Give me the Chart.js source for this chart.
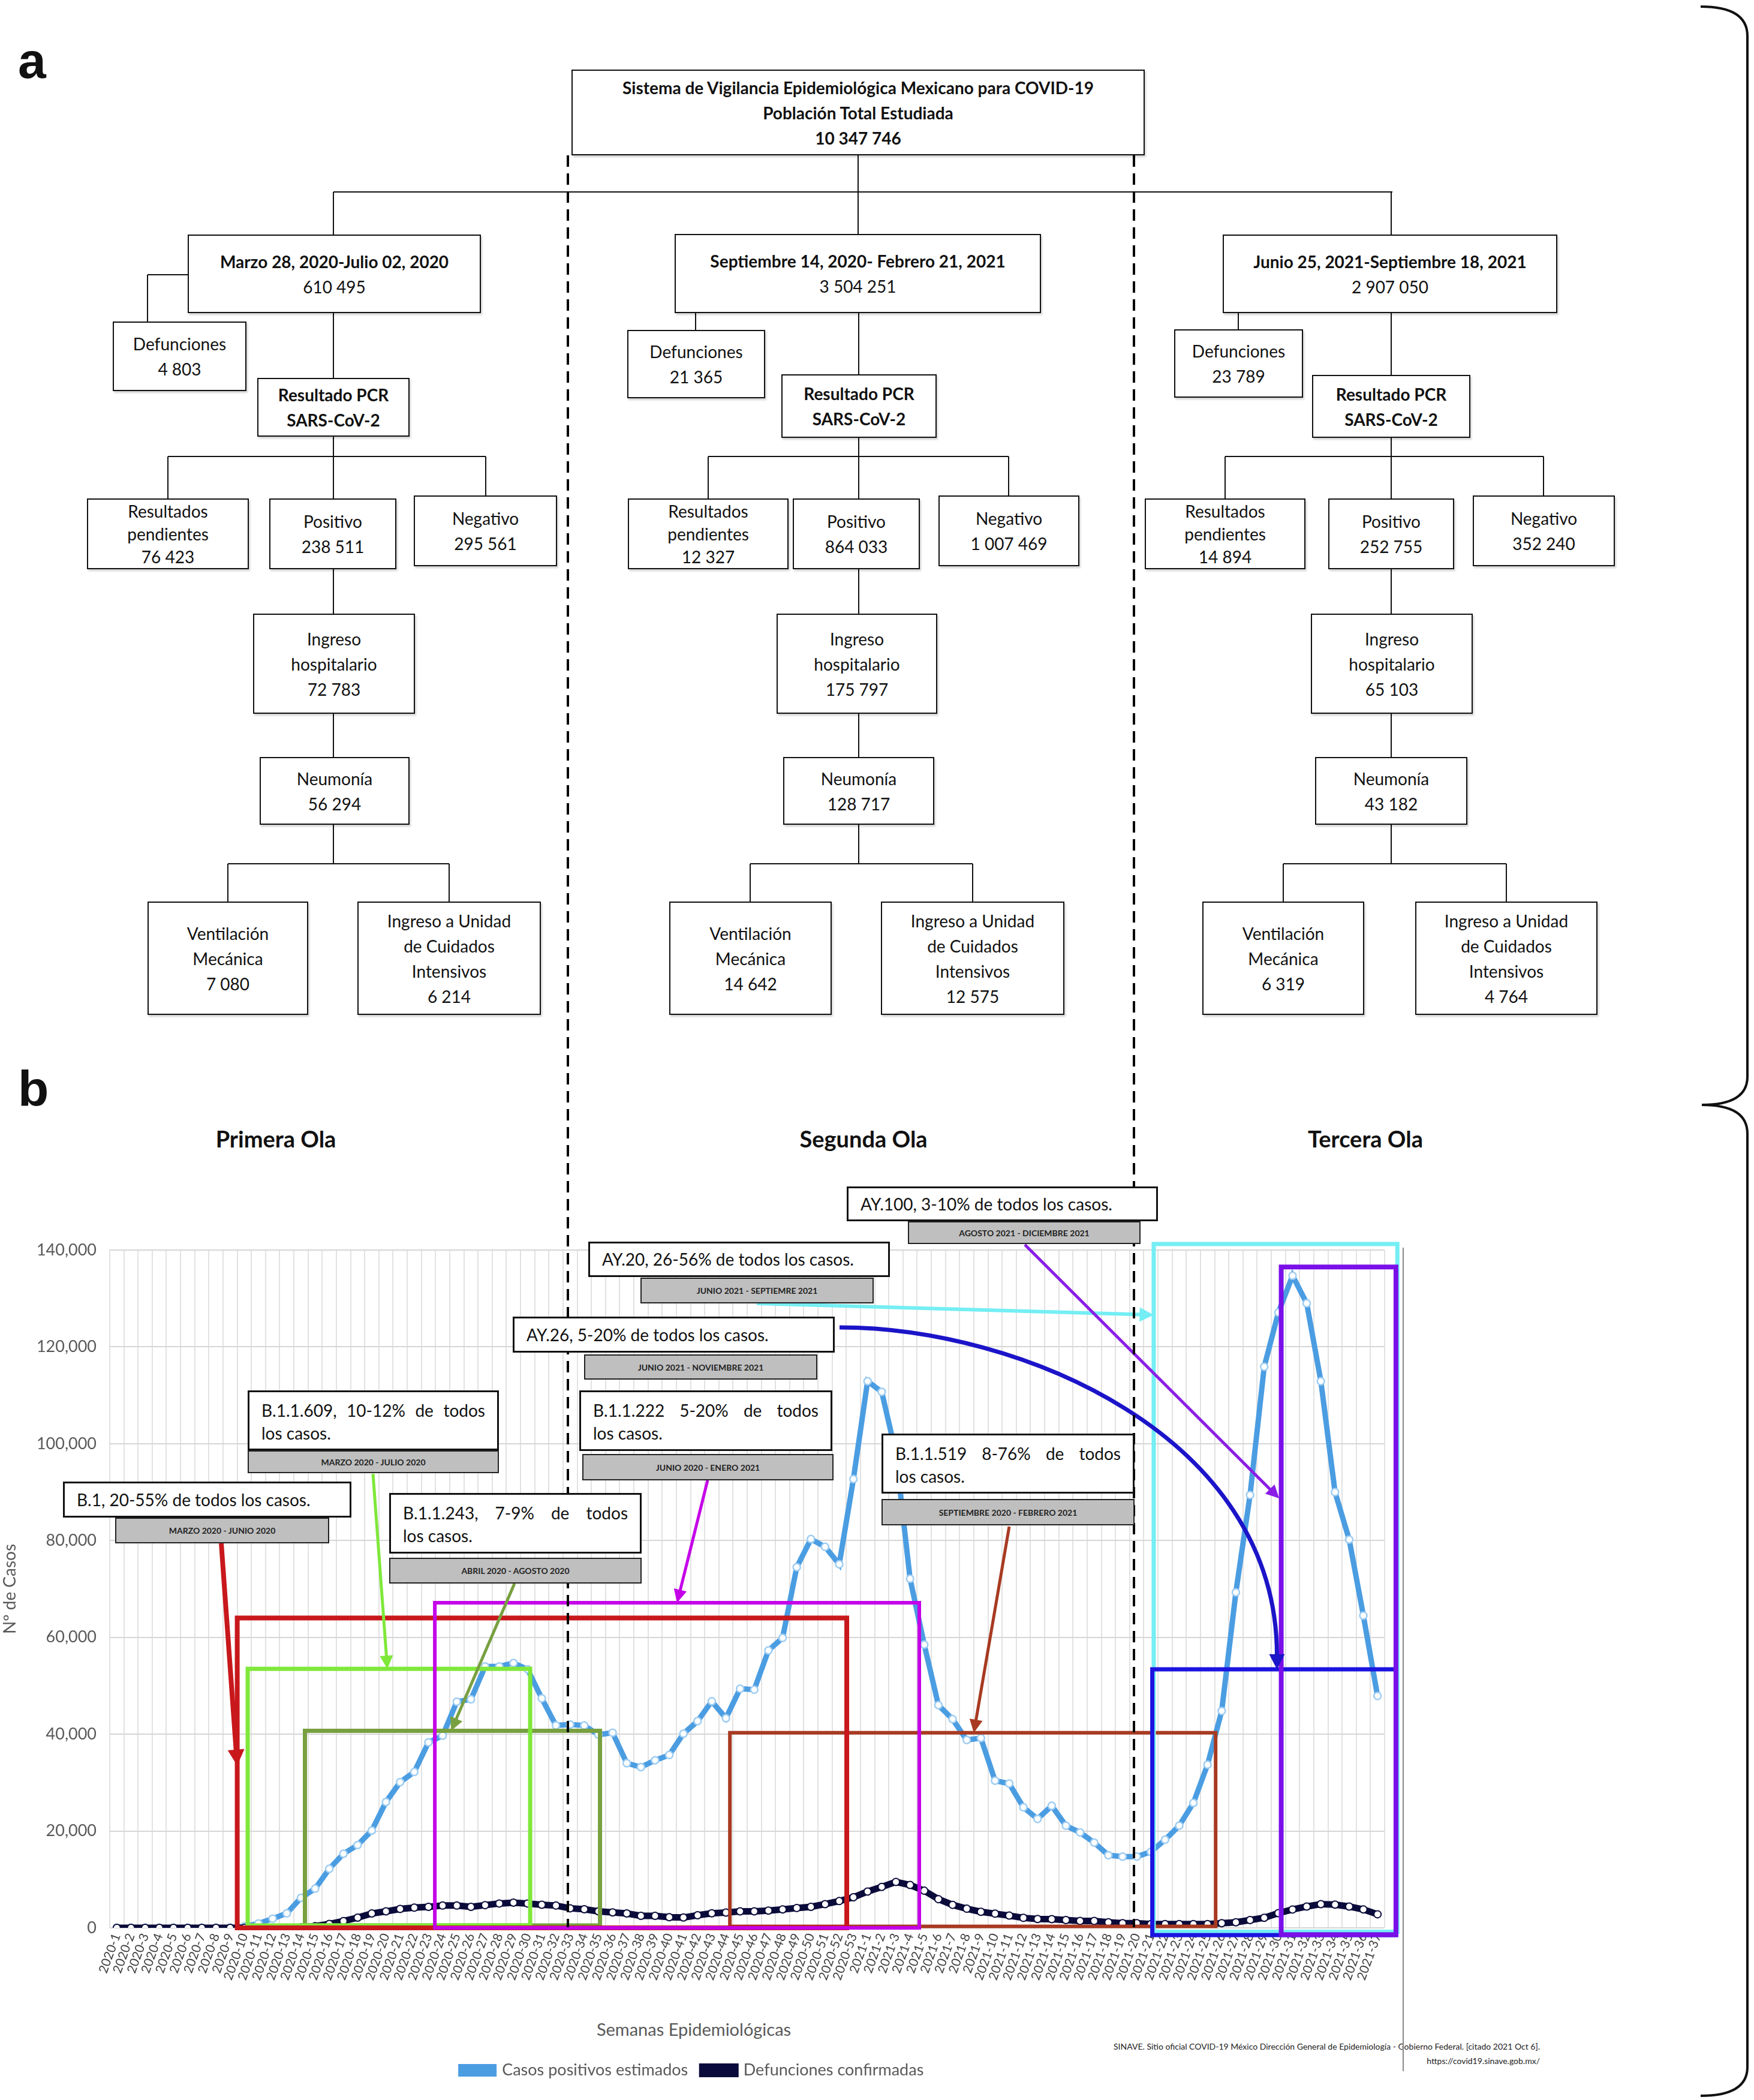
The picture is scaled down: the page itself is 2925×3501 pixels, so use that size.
<!DOCTYPE html>
<html lang="es">
<head>
<meta charset="utf-8">
<title>Olas COVID-19 México</title>
<script src="https://cdn.jsdelivr.net/npm/chart.js@4.4.1/dist/chart.umd.min.js"></script>
<style>
  html, body { margin: 0; padding: 0; background: #fff; }
  body { position: relative; width: 2925px; height: 3501px; overflow: hidden; font-family: Lato, "Open Sans", sans-serif; color: #111; }
  .caja { position: absolute; box-sizing: border-box; border: 2.5px solid #111; background: #fff; display: flex; flex-direction: column; justify-content: center; align-items: center; text-align: center; font-size: 28px; line-height: 42px; box-shadow: 2px 3px 3px rgba(0,0,0,.18); z-index: 2; white-space: nowrap; }
  .linea { position: absolute; background: #111; z-index: 1; }
  .letra { position: absolute; font: bold 84px "Liberation Sans", Arial, sans-serif; line-height: 1; }
  .ola { position: absolute; width: 600px; text-align: center; font-weight: 700; font-size: 38px; line-height: 50px; }
  .corte { position: absolute; width: 4px; background: repeating-linear-gradient(to bottom, #000 0 19px, transparent 19px 30px); z-index: 4; }
  .nota { position: absolute; box-sizing: border-box; background: #fff; border: 3px solid #111; font-size: 28px; line-height: 38px; padding: 11px 20px 0; z-index: 6; white-space: nowrap; }
  .nota span { display: block; }
  .nota span.just { text-align: justify; text-align-last: justify; white-space: normal; }
  .nota.una { padding: 0 20px; }
  .fecha { position: absolute; box-sizing: border-box; background: #bfbfbf; border: 2.5px solid #222; font-weight: 700; font-size: 14px; color: #222; display: flex; align-items: center; justify-content: center; z-index: 6; white-space: nowrap; }
  #grafica { position: absolute; left: 0; top: 1960px; z-index: 3; }
  .texto { position: absolute; color: #595959; }
</style>
</head>
<body>

<canvas id="grafica" width="2345" height="1541"></canvas>

<div class="letra" style="left:30px;top:59px">a</div>
<div class="letra" style="left:30px;top:1773px">b</div>

<div class="ola" style="left:160px;top:1873px">Primera Ola</div>
<div class="ola" style="left:1140px;top:1873px">Segunda Ola</div>
<div class="ola" style="left:1977px;top:1873px">Tercera Ola</div>

<div class="corte" style="left:945px;top:259px;height:2954px"></div>
<div class="corte" style="left:1889px;top:259px;height:2954px"></div>

<div style="position:absolute;left:2339px;top:2080px;width:2px;height:1373px;background:#888;z-index:3"></div>

<div class="texto" style="left:857px;top:3364px;width:600px;text-align:center;font-size:29px;line-height:38px">Semanas Epidemiológicas</div>
<div class="texto" style="left:1600px;top:3400px;width:968px;text-align:right;font-size:14px;line-height:24px;color:#222">SINAVE. Sitio oficial COVID-19 México Dirección General de Epidemiología - Gobierno Federal. [citado 2021 Oct 6].<br>https://covid19.sinave.gob.mx/</div>

<svg style="position:absolute;left:2820px;top:0" width="105" height="3501">
  <path d="M16 11 Q94 11 94 60 L94 1795 Q94 1842 18 1842 Q94 1842 94 1890 L94 3446 Q94 3494 16 3494" fill="none" stroke="#111" stroke-width="4"/>
</svg>

<script>
// ---- datos de la gráfica ----
const semanas = [];
for (let s = 1; s <= 53; s++) semanas.push('2020-' + s);
for (let s = 1; s <= 37; s++) semanas.push('2021-' + s);

const casos = [
  0, 0, 0, 0, 0, 0, 0, 0, 0, 300,
  900, 1900, 3000, 6200, 8100, 12200, 15300, 17100, 20100, 26000,
  30100, 32200, 38300, 39700, 46700, 47200, 54000, 54000, 54700, 53400,
  47400, 41800, 42000, 41800, 39900, 40300, 34000, 33200, 34600, 35700,
  40100, 42700, 46800, 43300, 49400, 49200, 57300, 59900, 74500, 80300,
  78700, 75100, 92700, 112900, 110700, 98000, 72100, 58500, 46000, 43100,
  38800, 39200, 30400, 29800, 24900, 22500, 25200, 21100, 19700, 17600,
  15000, 14700, 14700, 15700, 18200, 21100, 25800, 33700, 44800, 69300,
  89400, 115900, 127100, 134700, 129000, 112900, 90000, 80200, 64500, 47900
];

const defunciones = [
  0, 0, 0, 0, 0, 0, 0, 0, 0, 0,
  0, 0, 30, 100, 350, 800, 1400, 2100, 2970, 3400,
  3900, 4170, 4340, 4600, 4600, 4340, 4690, 5030, 5200, 5030,
  4770, 4600, 4040, 3840, 3400, 3190, 2970, 2480, 2480, 2200,
  2130, 2600, 3000, 3160, 3400, 3400, 3560, 3800, 4100, 4340,
  4900, 5530, 6320, 7500, 8460, 9490, 8850, 7670, 5930, 4750,
  3950, 3320, 2930, 2530, 2060, 1820, 1800, 1610, 1430, 1430,
  1140, 960, 960, 770, 770, 770, 770, 770, 960, 1140,
  1610, 2080, 3040, 3790, 4400, 4900, 4800, 4400, 3800, 2800
];

const marcasY = [0, 20000, 40000, 60000, 80000, 100000, 120000, 140000];

// periodos de cada linaje (posición de semana y altura del recuadro)
const linajes    = ['B.1.1.519', 'B.1.1.243', 'B.1.1.609', 'B.1', 'B.1.1.222', 'AY.20', 'AY.26', 'AY.100'];
const linajeIni  = [43.28, 13.28, 9.24, 8.5, 22.45, 73.2, 73.1, 82.2];
const linajeFin  = [77.57, 34.11, 29.18, 51.53, 56.65, 90.4, 90.3, 90.3];
const linajeTope = [40300, 40700, 53500, 64000, 67150, 141250, 53400, 136500];
const linajeBase = [300, 500, 500, 0, 0, -800, -1500, -1400];

const estiloMarco = {
  'B.1.1.519': ['#a83a22', 6], 'B.1.1.243': ['#78a040', 7], 'B.1.1.609': ['#7fe83a', 7],
  'B.1': ['#c8181c', 8], 'B.1.1.222': ['#c400e8', 6], 'AY.20': ['#74eef4', 7],
  'AY.26': ['#1c14e0', 7], 'AY.100': ['#7a10e8', 8]
};

// flechas: inicio en la página (px), final sobre el recuadro (semana, valor)
const flechas = [
  { ini: [369, 2573],  fin: [8.5, 33500],    color: '#c8181c', ancho: 8 },
  { ini: [622, 2457],  fin: [19.1, 53500],   color: '#7fe83a', ancho: 5 },
  { ini: [858, 2640],  fin: [23.6, 40700],   color: '#78a040', ancho: 5 },
  { ini: [1180, 2468], fin: [39.55, 67150],  color: '#c400e8', ancho: 5 },
  { ini: [1683, 2545], fin: [60.5, 40300],   color: '#a83a22', ancho: 5 },
  { ini: [1262, 2173], fin: [73.2, 126600],  color: '#74eef4', ancho: 6 },
  { ini: [1400, 2213], fin: [81.9, 53400],   color: '#1c14c8', ancho: 7, curva: true },
  { ini: [1709, 2075], fin: [82.06, 88700],  color: '#8a1ee6', ancho: 5 }
];

const notas = [
  { caja: [105, 2470, 586, 2530],  tag: [192, 2530, 549, 2573],  texto: ['B.1, 20-55% de todos los casos.'], fecha: 'MARZO 2020 - JUNIO 2020' },
  { caja: [413, 2318, 832, 2418],  tag: [413, 2418, 832, 2456],  texto: ['B.1.1.609, 10-12% de todos', 'los casos.'], fecha: 'MARZO 2020 - JULIO 2020' },
  { caja: [649, 2489, 1070, 2590], tag: [649, 2597, 1070, 2640], texto: ['B.1.1.243, 7-9% de todos', 'los casos.'], fecha: 'ABRIL 2020 - AGOSTO 2020' },
  { caja: [966, 2318, 1388, 2419], tag: [971, 2424, 1390, 2468], texto: ['B.1.1.222 5-20% de todos', 'los casos.'], fecha: 'JUNIO 2020 - ENERO 2021' },
  { caja: [855, 2195, 1392, 2255], tag: [974, 2258, 1363, 2300], texto: ['AY.26, 5-20% de todos los casos.'], fecha: 'JUNIO 2021 - NOVIEMBRE 2021' },
  { caja: [981, 2070, 1484, 2129], tag: [1068, 2130, 1457, 2173], texto: ['AY.20, 26-56% de todos los casos.'], fecha: 'JUNIO 2021 - SEPTIEMRE 2021' },
  { caja: [1412, 1978, 1931, 2036], tag: [1514, 2036, 1902, 2074], texto: ['AY.100, 3-10% de todos los casos.'], fecha: 'AGOSTO 2021 - DICIEMBRE 2021' },
  { caja: [1470, 2390, 1892, 2490], tag: [1470, 2499, 1892, 2543], texto: ['B.1.1.519 8-76% de todos', 'los casos.'], fecha: 'SEPTIEMBRE 2020 - FEBRERO 2021' }
];

// ---- diagrama de flujo (panel a) ----
const cajas = [
  [953, 116, 1909, 259, ['<b>Sistema de Vigilancia Epidemiológica Mexicano para COVID-19</b>', '<b>Población Total Estudiada</b>', '<b>10 347 746</b>']],
  [313, 391, 802, 522, ['<b>Marzo 28, 2020-Julio 02, 2020</b>', '610 495']],
  [1125, 390, 1736, 522, ['<b>Septiembre 14, 2020- Febrero 21, 2021</b>', '3 504 251']],
  [2039, 391, 2597, 522, ['<b>Junio 25, 2021-Septiembre 18, 2021</b>', '2 907 050']],
  [188, 536, 411, 652, ['Defunciones', '4 803']],
  [1046, 550, 1276, 664, ['Defunciones', '21 365']],
  [1958, 549, 2173, 663, ['Defunciones', '23 789']],
  [429, 630, 683, 728, ['<b>Resultado PCR</b>', '<b>SARS-CoV-2</b>']],
  [1303, 624, 1562, 730, ['<b>Resultado PCR</b>', '<b>SARS-CoV-2</b>']],
  [2188, 625, 2452, 730, ['<b>Resultado PCR</b>', '<b>SARS-CoV-2</b>']],
  [145, 831, 415, 949, ['Resultados', 'pendientes', '76 423'], 38],
  [449, 831, 661, 949, ['Positivo', '238 511']],
  [690, 826, 929, 944, ['Negativo', '295 561']],
  [1047, 831, 1315, 949, ['Resultados', 'pendientes', '12 327'], 38],
  [1322, 831, 1534, 949, ['Positivo', '864 033']],
  [1565, 826, 1800, 944, ['Negativo', '1 007 469']],
  [1909, 831, 2177, 949, ['Resultados', 'pendientes', '14 894'], 38],
  [2215, 831, 2425, 949, ['Positivo', '252 755']],
  [2456, 826, 2693, 944, ['Negativo', '352 240']],
  [422, 1023, 692, 1190, ['Ingreso', 'hospitalario', '72 783']],
  [1295, 1023, 1563, 1190, ['Ingreso', 'hospitalario', '175 797']],
  [2186, 1023, 2456, 1190, ['Ingreso', 'hospitalario', '65 103']],
  [433, 1262, 683, 1375, ['Neumonía', '56 294']],
  [1306, 1262, 1558, 1375, ['Neumonía', '128 717']],
  [2193, 1262, 2447, 1375, ['Neumonía', '43 182']],
  [246, 1503, 514, 1692, ['Ventilación', 'Mecánica', '7 080']],
  [1116, 1503, 1387, 1692, ['Ventilación', 'Mecánica', '14 642']],
  [2005, 1503, 2275, 1692, ['Ventilación', 'Mecánica', '6 319']],
  [596, 1503, 902, 1692, ['Ingreso a Unidad', 'de Cuidados', 'Intensivos', '6 214']],
  [1469, 1503, 1775, 1692, ['Ingreso a Unidad', 'de Cuidados', 'Intensivos', '12 575']],
  [2360, 1503, 2664, 1692, ['Ingreso a Unidad', 'de Cuidados', 'Intensivos', '4 764']]
];

const lineas = [
  [1431, 259, 1431, 320], [556, 320, 2322, 320],
  [556, 320, 556, 391], [1431, 320, 1431, 390], [2320, 320, 2320, 391],
  [246, 458, 313, 458], [246, 458, 246, 536], [1160, 522, 1160, 550], [2065, 522, 2065, 549]
];
const columnas = [
  { c: 556,  rp: 280,  neg: 810,  ven: 380,  uci: 749 },
  { c: 1432, rp: 1181, neg: 1682, ven: 1251, uci: 1622 },
  { c: 2320, rp: 2043, neg: 2574, ven: 2140, uci: 2512 }
];
columnas.forEach(k => {
  lineas.push([k.c, 522, k.c, 630], [k.c, 728, k.c, 831],
    [k.rp, 761, k.neg, 761], [k.rp, 761, k.rp, 831], [k.neg, 761, k.neg, 826],
    [k.c, 949, k.c, 1023], [k.c, 1190, k.c, 1262], [k.c, 1375, k.c, 1440],
    [k.ven, 1440, k.uci, 1440], [k.ven, 1440, k.ven, 1503], [k.uci, 1440, k.uci, 1503]);
});

function colocar(el, r) {
  el.style.left = r[0] + 'px';
  el.style.top = r[1] + 'px';
  el.style.width = (r[2] - r[0]) + 'px';
  el.style.height = (r[3] - r[1]) + 'px';
  document.body.appendChild(el);
}

cajas.forEach(b => {
  const d = document.createElement('div');
  d.className = 'caja';
  if (b[5]) d.style.lineHeight = b[5] + 'px';
  d.innerHTML = b[4].map(t => '<div>' + t + '</div>').join('');
  colocar(d, b);
});

lineas.forEach(l => {
  const d = document.createElement('div');
  d.className = 'linea';
  if (l[0] === l[2]) colocar(d, [l[0] - 1.25, Math.min(l[1], l[3]), l[0] + 1.25, Math.max(l[1], l[3])]);
  else colocar(d, [Math.min(l[0], l[2]), l[1] - 1.25, Math.max(l[0], l[2]), l[1] + 1.25]);
});

notas.forEach(n => {
  const d = document.createElement('div');
  d.className = 'nota' + (n.texto.length === 1 ? ' una' : '');
  if (n.texto.length === 1) d.style.lineHeight = (n.caja[3] - n.caja[1] - 6) + 'px';
  d.innerHTML = n.texto.map((t, i) =>
    '<span' + (n.texto.length > 1 && i === 0 ? ' class="just"' : '') + '>' + t + '</span>').join('');
  colocar(d, n.caja);
  const f = document.createElement('div');
  f.className = 'fecha';
  f.textContent = n.fecha;
  colocar(f, n.tag);
});

// ---- gráfica (panel b) ----
const lienzo = document.getElementById('grafica');
const origen = [0, 1960];

function punta(ctx, x, y, ang, ancho, color) {
  const largo = 14 + 1.6 * ancho, media = 6 + ancho;
  ctx.fillStyle = color;
  ctx.beginPath();
  ctx.moveTo(x, y);
  ctx.lineTo(x - largo * Math.cos(ang) + media * Math.sin(ang), y - largo * Math.sin(ang) - media * Math.cos(ang));
  ctx.lineTo(x - largo * Math.cos(ang) - media * Math.sin(ang), y - largo * Math.sin(ang) + media * Math.cos(ang));
  ctx.closePath();
  ctx.fill();
}

const marcos = {
  id: 'marcos',
  afterDatasetsDraw(chart) {
    const { ctx, scales: { x, y } } = chart;
    ctx.save();
    linajes.forEach((n, i) => {
      const x0 = x.getPixelForValue(linajeIni[i]), x1 = x.getPixelForValue(linajeFin[i]);
      const y0 = y.getPixelForValue(linajeTope[i]), y1 = y.getPixelForValue(linajeBase[i]);
      ctx.strokeStyle = estiloMarco[n][0];
      ctx.lineWidth = estiloMarco[n][1];
      ctx.strokeRect(x0, y0, x1 - x0, y1 - y0);
    });

    ctx.lineCap = 'butt';
    flechas.forEach(f => {
      const sx = f.ini[0] - origen[0], sy = f.ini[1] - origen[1];
      const ex = x.getPixelForValue(f.fin[0]), ey = y.getPixelForValue(f.fin[1]);
      const largo = 14 + 1.6 * f.ancho;
      ctx.strokeStyle = f.color;
      ctx.lineWidth = f.ancho;
      if (f.curva) {
        ctx.beginPath();
        ctx.moveTo(sx, sy);
        ctx.bezierCurveTo(sx + 300, sy, ex, ey - 390, ex, ey - largo + 2);
        ctx.stroke();
        punta(ctx, ex, ey, Math.PI / 2, f.ancho, f.color);
      } else {
        const ang = Math.atan2(ey - sy, ex - sx);
        ctx.beginPath();
        ctx.moveTo(sx, sy);
        ctx.lineTo(ex - (largo - 2) * Math.cos(ang), ey - (largo - 2) * Math.sin(ang));
        ctx.stroke();
        punta(ctx, ex, ey, ang, f.ancho, f.color);
      }
    });
    ctx.restore();
  }
};

Chart.defaults.font.family = 'Lato, "Open Sans", sans-serif';
Chart.defaults.color = '#595959';

new Chart(lienzo, {
  type: 'line',
  data: {
    labels: semanas,
    datasets: [
      {
        label: 'Casos positivos estimados',
        data: casos,
        order: 2,
        borderColor: '#4b9de2',
        backgroundColor: '#4b9de2',
        borderWidth: 9,
        pointRadius: 6,
        pointBackgroundColor: '#ffffff',
        pointBorderColor: '#9fcdf2',
        pointBorderWidth: 2.5,
        tension: 0
      },
      {
        label: 'Defunciones confirmadas',
        data: defunciones,
        order: 1,
        borderColor: '#0b0b3b',
        backgroundColor: '#0b0b3b',
        borderWidth: 11,
        pointRadius: 6,
        pointBackgroundColor: '#ffffff',
        pointBorderColor: '#0b0b3b',
        pointBorderWidth: 2,
        tension: 0
      }
    ]
  },
  options: {
    responsive: false,
    animation: false,
    devicePixelRatio: 1,
    layout: { padding: { top: 124, left: 0, right: 36, bottom: 26 } },
    plugins: {
      legend: {
        position: 'bottom',
        labels: {
          font: { size: 27 },
          color: '#595959',
          boxWidth: 55,
          boxHeight: 12,
          padding: 24,
          sort: (a, b) => a.datasetIndex - b.datasetIndex
        }
      },
      tooltip: { enabled: false }
    },
    scales: {
      x: {
        offset: true,
        grid: { offset: true, color: '#e2e2e2', lineWidth: 2, drawTicks: false },
        border: { display: false },
        ticks: { autoSkip: false, minRotation: 70, maxRotation: 70, font: { size: 21 }, color: '#404040', padding: 6 },
        afterFit(s) { s.height = 200; }
      },
      y: {
        min: 0,
        max: 140000,
        grid: { color: '#d6d6d6', lineWidth: 2, drawTicks: false },
        border: { display: false },
        afterBuildTicks(s) { s.ticks = marcasY.map(v => ({ value: v })); },
        ticks: { font: { size: 27 }, color: '#595959', padding: 22, callback: v => v.toLocaleString('en-US') },
        title: { display: true, text: 'Nº de Casos', font: { size: 28 }, color: '#595959', padding: 0 },
        afterFit(s) { s.width = 183; }
      }
    }
  },
  plugins: [marcos]
});
</script>
</body>
</html>
